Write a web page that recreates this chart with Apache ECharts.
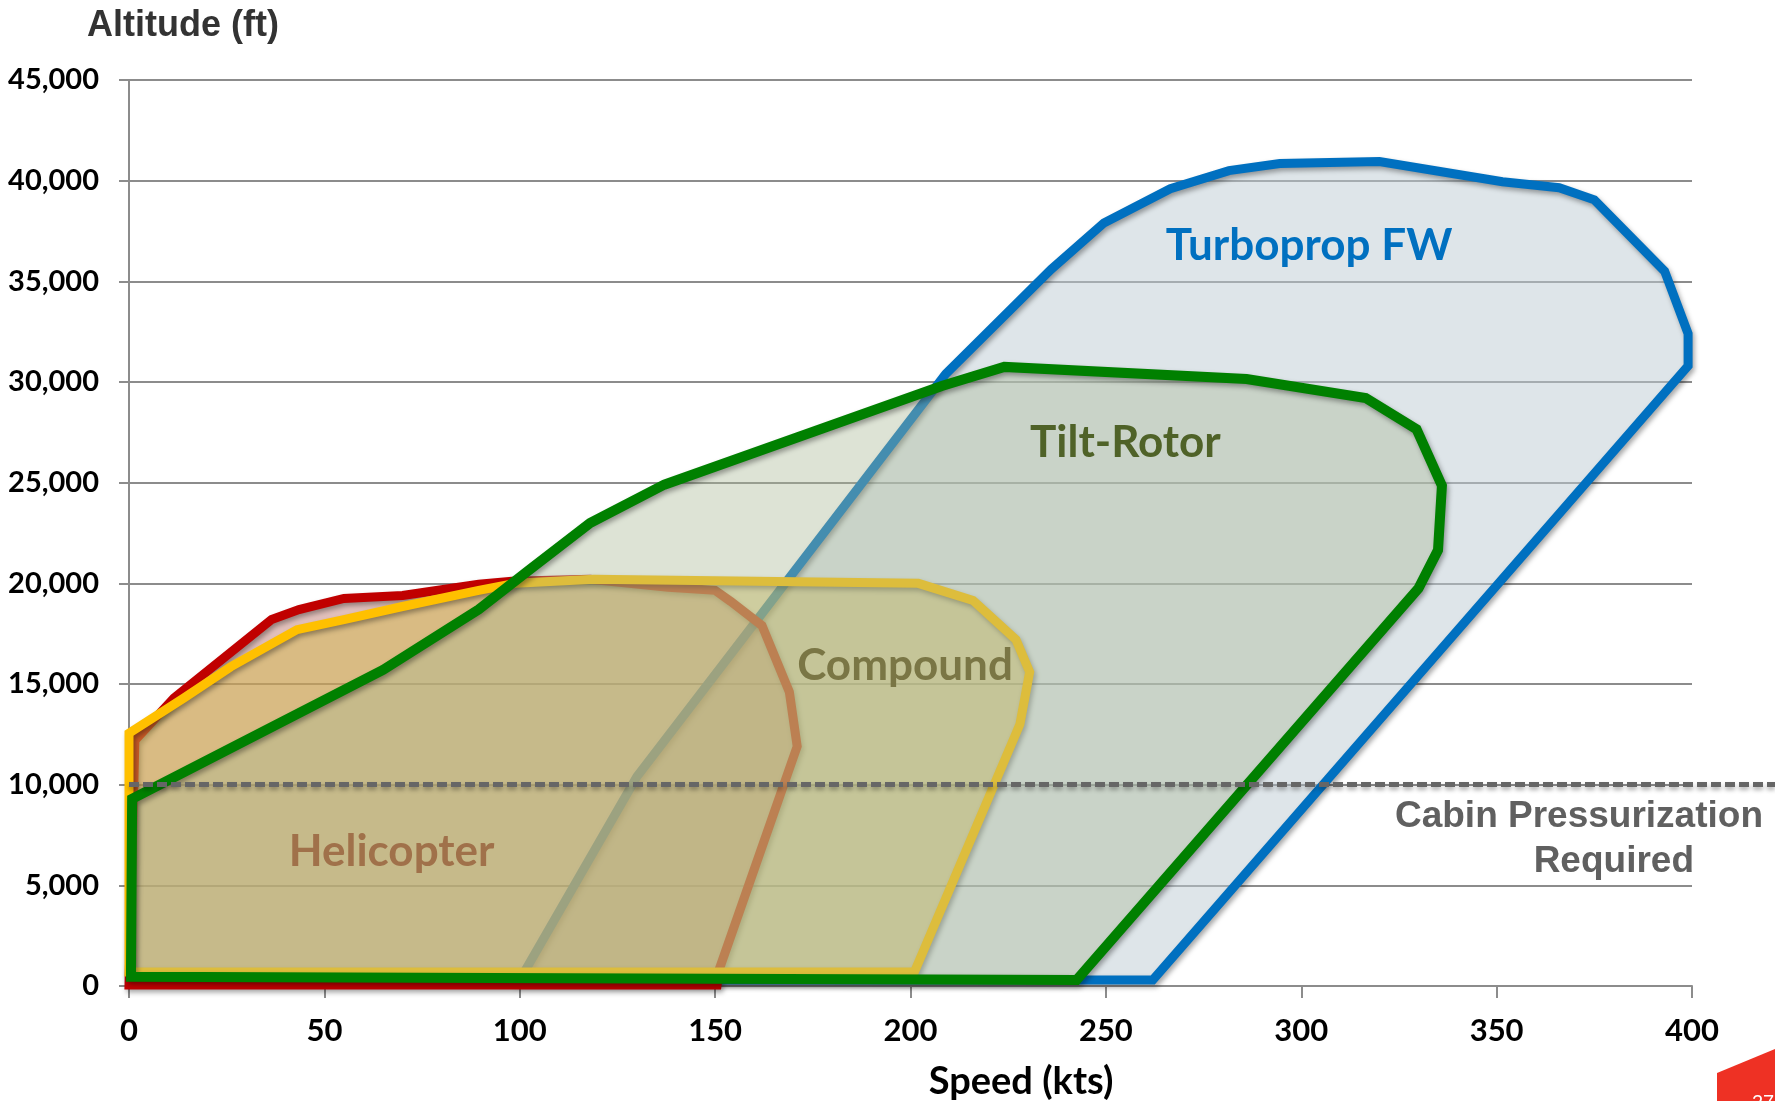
<!DOCTYPE html>
<html>
<head>
<meta charset="utf-8">
<script src="https://cdn.jsdelivr.net/npm/echarts@6/dist/echarts.min.js"></script>
<style>
  html, body { margin: 0; padding: 0; background: #fff; }
  #chart { width: 1775px; height: 1101px; }
</style>
</head>
<body>
<div id="chart"></div>
<script>
// ---- Data (speed in kts, altitude in ft) ----
const xTicks = [0, 50, 100, 150, 200, 250, 300, 350, 400];
const yTickLabels = ['0', '5,000', '10,000', '15,000', '20,000', '25,000', '30,000', '35,000', '40,000', '45,000'];

const turboprop = [[100, 300], [130, 10400], [209, 30400], [236, 35600], [249.5, 37900], [266.5, 39600], [281.5, 40500], [294.5, 40850], [320, 40950], [351.5, 39950], [366, 39650], [375, 39050], [393, 35500], [399, 32400], [399, 30800], [262, 300]];
const helicopter = [[0, 50], [1.5, 12200], [11.5, 14300], [36.5, 18200], [43.5, 18700], [55, 19250], [70, 19400], [89.5, 19950], [98, 20100], [118, 20200], [138, 19800], [150, 19650], [154, 19100], [162, 17900], [169, 14600], [171, 11900], [151, 800], [150.5, 50]];
const compound = [[0, 700], [0, 12550], [14, 14300], [26, 15850], [43, 17700], [55, 18200], [70, 18850], [89.5, 19650], [99, 20000], [119, 20200], [202, 20000], [216, 19150], [227, 17200], [230.5, 15600], [228, 13000], [201, 700]];
const tiltRotor = [[0.5, 460], [0.8, 9300], [65, 15700], [89.5, 18700], [102, 20600], [118, 23000], [137, 24900], [208, 29800], [224, 30750], [286, 30150], [316.5, 29200], [329.5, 27650], [336, 24850], [335, 21650], [330, 19750], [242.5, 300]];

const pressurizationAltitude = 10000;

const labelNames = ['Turboprop FW', 'Tilt-Rotor', 'Compound', 'Helicopter'];
const labelX = [302, 255, 198.6, 67.2];
const labelY = [36750, 27000, 15900, 6680];
// ---- styles ----
const labelColors = ['#0070c0', '#4f6228', '#7a7645', '#a0714a'];

const chart = echarts.init(document.getElementById('chart'), null, { renderer: 'canvas' });

function envelopeSeries(name, pts, fill, stroke, width) {
  return {
    type: 'custom',
    name: name,
    xAxisIndex: 0,
    yAxisIndex: 0,
    clip: false,
    z: 3,
    data: pts,
    renderItem: function (params, api) {
      if (params.dataIndex !== 0) return null;
      const coords = [];
      for (let i = 0; i < pts.length; i++) {
        coords.push(api.coord([api.value(0, i), api.value(1, i)]));
      }
      return {
        type: 'group',
        children: [
          { type: 'polygon', shape: { points: coords }, style: { fill: fill, stroke: null } },
          {
            type: 'polygon', shape: { points: coords },
            style: {
              fill: null, stroke: stroke, lineWidth: width, lineJoin: 'miter',
              shadowBlur: 5, shadowOffsetX: 2, shadowOffsetY: 3, shadowColor: 'rgba(0,0,0,0.35)'
            }
          }
        ]
      };
    }
  };
}

const labelData = labelNames.map((n, i) => [labelX[i], labelY[i], i]);

const option = {
  animation: false,
  backgroundColor: '#ffffff',
  grid: [
    { left: 129, right: 83, top: 80, bottom: 115 },
    { left: 129, right: 0, top: 80, bottom: 115 }
  ],
  xAxis: [
    {
      type: 'value', gridIndex: 0, min: 0, max: 400, interval: 50,
      axisLine: { show: true, lineStyle: { color: '#8c8c8c', width: 2 } },
      axisTick: { show: true, length: 12, lineStyle: { color: '#8c8c8c', width: 2 } },
      splitLine: { show: false },
      axisLabel: { margin: 29, color: '#000', fontFamily: 'Lato', fontWeight: 'bold', fontSize: 31 }
    },
    { type: 'value', gridIndex: 1, min: 0, max: 1, show: false }
  ],
  yAxis: [
    {
      type: 'value', gridIndex: 0, min: 0, max: 45000, interval: 5000,
      axisLine: { show: true, lineStyle: { color: '#8c8c8c', width: 2 } },
      axisTick: { show: true, length: 10, lineStyle: { color: '#8c8c8c', width: 2 } },
      splitLine: { show: true, lineStyle: { color: '#8c8c8c', width: 2 } },
      axisLabel: {
        margin: 30, color: '#000', fontFamily: 'Lato', fontWeight: 'bold', fontSize: 29,
        formatter: function (v) { return yTickLabels[Math.round(v / 5000)]; }
      }
    },
    { type: 'value', gridIndex: 1, min: 0, max: 45000, show: false }
  ],
  series: [
    {
      type: 'line', xAxisIndex: 1, yAxisIndex: 1, data: [], z: 1,
      markLine: {
        silent: true, symbol: ['none', 'none'], label: { show: false },
        lineStyle: {
          color: '#666666', width: 5, type: [10, 4],
          shadowBlur: 4, shadowOffsetY: 3, shadowColor: 'rgba(0,0,0,0.3)'
        },
        data: [{ yAxis: pressurizationAltitude }]
      }
    },
    envelopeSeries('Turboprop FW', turboprop, 'rgba(190,204,212,0.5)', '#0070c0', 9),
    envelopeSeries('Helicopter', helicopter, 'rgba(191,115,104,0.45)', '#c00000', 9),
    envelopeSeries('Compound', compound, 'rgba(208,182,75,0.5)', '#ffc000', 9),
    envelopeSeries('Tilt-Rotor', tiltRotor, 'rgba(170,185,150,0.4)', '#008000', 10),
    {
      type: 'custom', name: 'labels', xAxisIndex: 0, yAxisIndex: 0, z: 10, clip: false,
      data: labelData,
      renderItem: function (params, api) {
        const p = api.coord([api.value(0), api.value(1)]);
        const idx = api.value(2);
        return {
          type: 'text',
          style: {
            x: p[0], y: p[1], text: labelNames[idx],
            fill: labelColors[idx], font: 'bold 44px Lato',
            textAlign: 'center', textVerticalAlign: 'middle'
          }
        };
      }
    }
  ],
  graphic: [
    {
      type: 'text', left: 87, top: 8,
      style: { text: 'Altitude (ft)', fill: '#333333', font: 'bold 36px "Liberation Sans"' }
    },
    {
      type: 'text', x: 1021, y: 1082,
      style: { text: 'Speed (kts)', fill: '#000', font: 'bold 38px Lato', textAlign: 'center', textVerticalAlign: 'middle' }
    },
    {
      type: 'text', x: 1763, y: 817,
      style: { text: 'Cabin Pressurization', fill: '#606060', font: 'bold 37px "Liberation Sans"', textAlign: 'right', textVerticalAlign: 'middle' }
    },
    {
      type: 'text', x: 1694, y: 862,
      style: { text: 'Required', fill: '#606060', font: 'bold 37px "Liberation Sans"', textAlign: 'right', textVerticalAlign: 'middle' }
    },
    {
      type: 'polygon',
      shape: { points: [[1717, 1073], [1775, 1049], [1775, 1101], [1717, 1101]] },
      style: { fill: '#ee3124' }
    },
    {
      type: 'text', x: 1752, y: 1093,
      style: { text: '27', fill: '#ffffff', font: '20px "Liberation Sans"' }
    }
  ]
};

chart.setOption(option);
</script>
</body>
</html>
